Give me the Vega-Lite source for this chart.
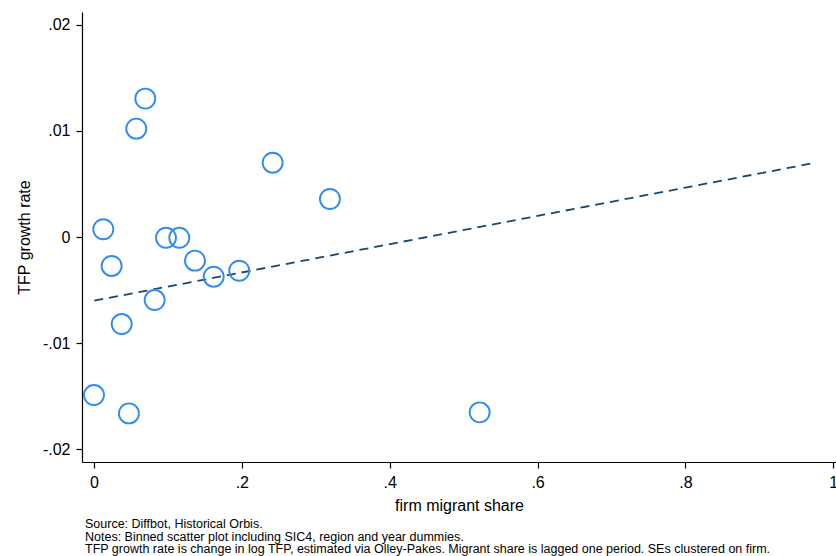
{
  "$schema": "https://vega.github.io/schema/vega-lite/v6.json",
  "width": 754,
  "height": 450,
  "autosize": {"type": "none"},
  "padding": {"left": 82, "top": 12, "right": 0, "bottom": 94},
  "background": "white",
  "config": {
    "view": {"stroke": null},
    "font": "Liberation Sans",
    "axis": {
      "grid": false,
      "domainColor": "black",
      "domainWidth": 1.2,
      "tickColor": "black",
      "tickWidth": 1.2,
      "tickSize": 6,
      "labelFont": "Liberation Sans",
      "labelFontSize": 16,
      "labelColor": "black",
      "titleFont": "Liberation Sans",
      "titleFontSize": 16,
      "titleFontWeight": "normal",
      "titleColor": "black"
    }
  },
  "title": {
    "text": [
      "Source: Diffbot, Historical Orbis.",
      "Notes: Binned scatter plot including SIC4, region and year dummies.",
      "TFP growth rate is change in log TFP, estimated via Olley-Pakes. Migrant share is lagged one period. SEs clustered on firm."
    ],
    "orient": "bottom",
    "anchor": "start",
    "frame": "group",
    "dx": 3,
    "offset": 5,
    "fontSize": 12.5,
    "fontWeight": "normal",
    "font": "Liberation Sans",
    "color": "black",
    "lineHeight": 12.5
  },
  "datasets": {
    "bins": [
      {"share": 0.000, "tfp": -0.01489},
      {"share": 0.0126, "tfp": 0.00073},
      {"share": 0.0239, "tfp": -0.00273},
      {"share": 0.0375, "tfp": -0.0082},
      {"share": 0.0473, "tfp": -0.01662},
      {"share": 0.0572, "tfp": 0.01021},
      {"share": 0.0694, "tfp": 0.01304},
      {"share": 0.0821, "tfp": -0.00594},
      {"share": 0.0974, "tfp": -0.00007},
      {"share": 0.1154, "tfp": -0.00007},
      {"share": 0.1366, "tfp": -0.00223},
      {"share": 0.1619, "tfp": -0.00374},
      {"share": 0.1965, "tfp": -0.00318},
      {"share": 0.2417, "tfp": 0.0070},
      {"share": 0.3192, "tfp": 0.00358},
      {"share": 0.5217, "tfp": -0.01652}
    ],
    "fit": [
      {"share": 0.0004, "tfp": -0.0060},
      {"share": 0.9694, "tfp": 0.00691}
    ]
  },
  "layer": [
    {
      "data": {"name": "fit"},
      "mark": {"type": "line", "color": "#1a476f", "strokeWidth": 1.8, "strokeDash": [9, 6]},
      "encoding": {
        "x": {
          "field": "share", "type": "quantitative",
          "scale": {"domain": [-0.0162, 1.0037], "nice": false, "zero": false},
          "axis": {
            "values": [0, 0.2, 0.4, 0.6, 0.8, 1],
            "title": "firm migrant share",
            "labelPadding": 6,
            "titlePadding": 7,
            "labelExpr": "replace(format(datum.value, '.1~f'), '0.', '.')"
          }
        },
        "y": {
          "field": "tfp", "type": "quantitative",
          "scale": {"domain": [-0.0212, 0.0212], "nice": false, "zero": false},
          "axis": {
            "values": [-0.02, -0.01, 0, 0.01, 0.02],
            "title": "TFP growth rate",
            "labelPadding": 6,
            "titlePadding": 10,
            "labelExpr": "replace(replace(format(datum.value, '.2~f'), '0.', '.'), '\u2212', '-')"
          }
        }
      }
    },
    {
      "data": {"name": "bins"},
      "mark": {"type": "point", "shape": "circle", "filled": false, "size": 400, "stroke": "#2f8df3", "strokeWidth": 1.9, "opacity": 1},
      "encoding": {
        "x": {"field": "share", "type": "quantitative"},
        "y": {"field": "tfp", "type": "quantitative"}
      }
    }
  ]
}
